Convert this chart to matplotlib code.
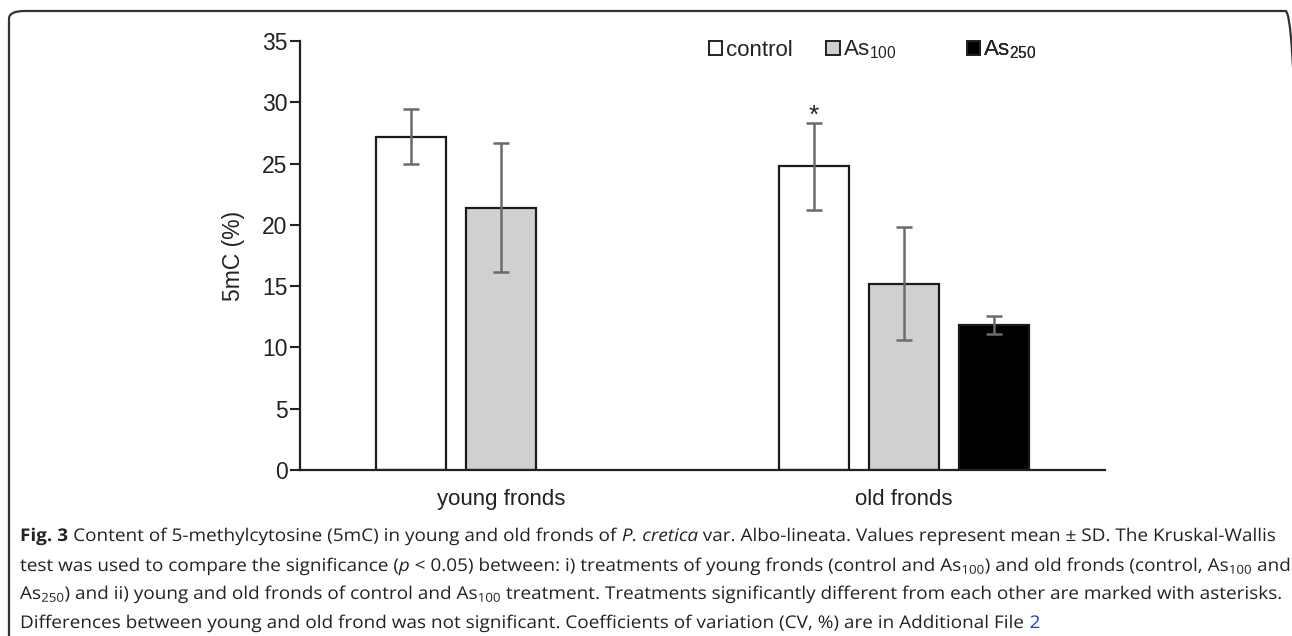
import matplotlib
matplotlib.use("Agg")
import matplotlib.pyplot as plt
import numpy as np
from matplotlib.font_manager import FontProperties
from matplotlib.patches import FancyBboxPatch, PathPatch, Rectangle
from matplotlib.textpath import TextPath
from matplotlib.transforms import Affine2D, IdentityTransform

# 5mC content (%) per frond age and arsenic treatment, mean and SD
groups = ["young fronds", "old fronds"]
treatments = ["control", "As$\\mathregular{_{100}}$", "As$\\mathregular{_{250}}$"]
colors = ["white", "#d0d0d0", "black"]
means = {
    "control": [27.2, 24.8],
    "As100": [21.4, 15.2],
    "As250": [np.nan, 11.8],
}
sds = {
    "control": [2.25, 3.55],
    "As100": [5.25, 4.6],
    "As250": [np.nan, 0.73],
}
starred = [("control", 1)]

W, H, DPI = 1292, 636, 100
CHART_FONT = "Liberation Sans"
CAP_FONT = "Open Sans"

fig = plt.figure(figsize=(W / DPI, H / DPI), dpi=DPI)


def fx(px):
    return px / W


def fy(py):
    return 1 - py / H


ax = fig.add_axes([fx(300), fy(470), fx(1105) - fx(300), fy(41) - fy(470)])

x = np.arange(len(groups))
width = 0.174
step = 0.2236
keys = ["control", "As100", "As250"]
for i, key in enumerate(keys):
    off = (i - 1) * step
    vals = np.array(means[key])
    errs = np.array(sds[key])
    ok = ~np.isnan(vals)
    ax.bar(x[ok] + off, vals[ok], width, color=colors[i], edgecolor="#1a1a1a",
           linewidth=1.6, zorder=2)
    ax.errorbar(x[ok] + off, vals[ok], yerr=errs[ok], fmt="none",
                ecolor="#6b6b6b", elinewidth=1.8, capsize=6, capthick=1.8, zorder=3)

for key, gi in starred:
    i = keys.index(key)
    top = means[key][gi] + sds[key][gi]
    ax.text(x[gi] + (i - 1) * step, top - 0.4, "*", ha="center", va="bottom",
            fontsize=19, family=CHART_FONT, color="#222222")

ax.set_xlim(-0.5, 1.5)
ax.set_ylim(0, 35)
ax.set_yticks(np.arange(0, 36, 5))
ax.set_xticks(x)
ax.set_xticklabels(groups, fontsize=16, family=CHART_FONT, color="#222222")
for lab in ax.get_yticklabels():
    lab.set_fontsize(16.5)
    lab.set_family(CHART_FONT)
    lab.set_color("#222222")
ax.tick_params(axis="y", length=7, width=1.5, color="#222222", pad=2)
ax.tick_params(axis="x", length=0, pad=14)
for s in ["top", "right"]:
    ax.spines[s].set_visible(False)
for s in ["left", "bottom"]:
    ax.spines[s].set_linewidth(1.6)
    ax.spines[s].set_color("#222222")
ax.set_ylabel("5mC (%)", fontsize=16.5, family=CHART_FONT, color="#222222", labelpad=12)

# one legend entry per treatment, spaced across the top of the plot
legend_x = [0.508, 0.654, 0.828]
for c, lab, lx in zip(colors, treatments, legend_x):
    leg = ax.legend(
        [Rectangle((0, 0), 1, 1, facecolor=c, edgecolor="#222222", linewidth=1.4)], [lab],
        loc="center left", bbox_to_anchor=(lx, 0.979), frameon=False, borderpad=0,
        borderaxespad=0, prop={"family": CHART_FONT, "size": 16},
        handlelength=0.6, handleheight=0.6, handletextpad=0.15,
    )
    for t in leg.get_texts():
        t.set_color("#222222")
    ax.add_artist(leg)

# caption below the chart, drawn as horizontally condensed text runs
cap = [
    [("Fig. 3", {"weight": "bold"}),
     (" Content of 5-methylcytosine (5mC) in young and old fronds of ", {}),
     ("P. cretica", {"style": "italic"}),
     (" var. Albo-lineata. Values represent mean ± SD. The Kruskal-Wallis", {})],
    [("test was used to compare the significance (", {}),
     ("p", {"style": "italic"}),
     (" < 0.05) between: i) treatments of young fronds (control and As$\\mathregular{_{100}}$) "
      "and old fronds (control, As$\\mathregular{_{100}}$ and", {})],
    [("As$\\mathregular{_{250}}$) and ii) young and old fronds of control and As$\\mathregular{_{100}}$ "
      "treatment. Treatments significantly different from each other are marked with asterisks.", {})],
    [("Differences between young and old frond was not significant. Coefficients of variation "
      "(CV, %) are in Additional File ", {}),
     ("2", {"color": "#1a3fd6"})],
]
baselines = [541, 571, 599, 628]
cap_px = 17.5
cap_pt = cap_px * 72 / DPI
renderer = fig.canvas.get_renderer()


def run_prop(style):
    return FontProperties(family=CAP_FONT, size=cap_pt,
                          weight=style.get("weight", "normal"),
                          style=style.get("style", "normal"))


def advance(txt, prop):
    t = fig.text(0, 0, txt, fontproperties=prop)
    w = t.get_window_extent(renderer=renderer).width
    t.remove()
    return w


# squeeze factor so the first line spans the text block width
line1_w = sum(advance(t, run_prop(s)) for t, s in cap[0])
sx = (1276 - 20) / line1_w

for runs, by in zip(cap, baselines):
    cx = 20.0
    for txt, style in runs:
        prop = run_prop(style)
        path = TextPath((0, 0), txt, size=cap_px, prop=prop)
        tr = Affine2D().scale(sx, 1).translate(cx, H - by) + IdentityTransform()
        fig.patches.append(PathPatch(path, transform=tr, facecolor=style.get("color", "#222222"),
                                     edgecolor="none", lw=0))
        cx += advance(txt, prop) * sx

frame = FancyBboxPatch((fx(9), fy(700)), fx(1301) - fx(9), fy(11) - fy(700),
                       boxstyle="round,pad=0,rounding_size=0.012",
                       transform=fig.transFigure, facecolor="none",
                       edgecolor="#333333", linewidth=1.6, clip_on=False)
fig.patches.append(frame)

fig.savefig("out.png", dpi=DPI)
